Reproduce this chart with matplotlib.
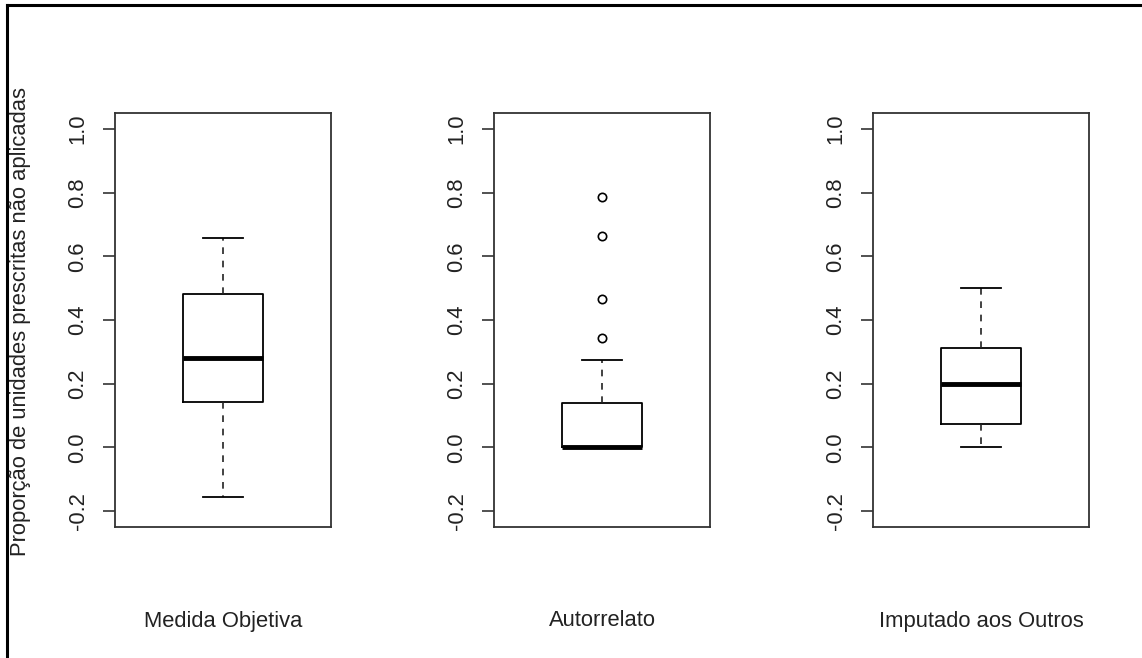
import matplotlib
matplotlib.use("Agg")
import matplotlib.pyplot as plt
from matplotlib.lines import Line2D

# ---- data ----
categories = ["Medida Objetiva", "Autorrelato", "Imputado aos Outros"]
q1 = [0.144, 0.0, 0.072]
median = [0.282, 0.0, 0.200]
q3 = [0.483, 0.138, 0.313]
whisker_low = [-0.157, 0.0, 0.0]
whisker_high = [0.658, 0.273, 0.500]
outliers = [[], [0.345, 0.467, 0.664, 0.787], []]
yticks = [-0.2, 0.0, 0.2, 0.4, 0.6, 0.8, 1.0]
ylabel = "Proporção de unidades prescritas não aplicadas"

plt.rcParams['font.family'] = ['Liberation Sans', 'DejaVu Sans']

W, H = 1142, 658
fig = plt.figure(figsize=(W / 100, H / 100), dpi=100)

lefts = [115, 494, 873]
ax_w, ax_top, ax_bot = 216, 113, 527
FS = 15.8

for i, cat in enumerate(categories):
    ax = fig.add_axes([lefts[i] / W, 1 - ax_bot / H, ax_w / W, (ax_bot - ax_top) / H])
    stats = [dict(med=median[i], q1=q1[i], q3=q3[i],
                  whislo=whisker_low[i], whishi=whisker_high[i],
                  fliers=outliers[i])]
    ax.bxp(stats, positions=[0.5], widths=0.37, patch_artist=False,
           boxprops=dict(color='black', linewidth=1.3),
           medianprops=dict(color='black', linewidth=3.5, solid_capstyle='butt'),
           whiskerprops=dict(color='#222222', linestyle=(0, (4, 4)), linewidth=1.2),
           capprops=dict(color='black', linewidth=1.3),
           flierprops=dict(marker='o', markersize=6, markerfacecolor='none',
                           markeredgecolor='black', markeredgewidth=1.2,
                           linestyle='none'))
    ax.set_xlim(0, 1)
    ax.set_ylim(-0.25, 1.05)
    ax.set_xticks([])
    ax.set_yticks(yticks)
    ax.set_yticklabels([f"{v:.1f}" for v in yticks], rotation=90, va='center',
                       fontsize=FS, color='#222222')
    ax.tick_params(axis='y', direction='out', length=9, width=1.1, pad=10,
                   color='#222222')
    for s in ax.spines.values():
        s.set_linewidth(1.3)
        s.set_color('#333333')
    cx = (lefts[i] + ax_w / 2) / W
    fig.text(cx, 1 - 621 / H, cat, ha='center', va='center', fontsize=FS,
             color='#222222')

fig.text(21 / W, 1 - 321 / H, ylabel, rotation=90, ha='center', va='center',
         fontsize=FS, color='#222222')

# outer border (top and left edges)
fig.add_artist(Line2D([7 / W, 1], [1 - 5 / H, 1 - 5 / H], transform=fig.transFigure,
                      color='black', linewidth=2.2))
fig.add_artist(Line2D([7 / W, 7 / W], [0, 1 - 5 / H], transform=fig.transFigure,
                      color='black', linewidth=2.2))

fig.savefig("out.png", dpi=100)
